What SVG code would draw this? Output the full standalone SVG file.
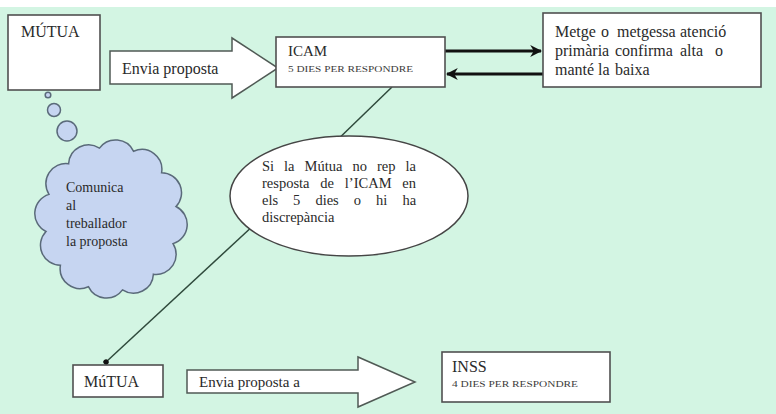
<svg xmlns="http://www.w3.org/2000/svg" width="776" height="414" viewBox="0 0 776 414">
<style>
.box{fill:#ffffff;stroke:#505050;stroke-width:1.6}
.arr{fill:#ffffff;stroke:#505a55;stroke-width:1.5;stroke-linejoin:miter}
.t{font-family:"Liberation Serif","Times New Roman",serif;fill:#2a2a2a;font-size:16px}
.s{font-family:"Liberation Serif","Times New Roman",serif;fill:#3a3a3a;font-size:8px}
.bub{fill:#c6d5f1;stroke:#5a6a7a;stroke-width:1.5}
.ln{stroke:#2f4a3c;stroke-width:1.5;fill:none}
.thick{stroke:#111;stroke-width:3;fill:none}
</style>
<defs>
<marker id="ah" viewBox="0 0 10 10" refX="9" refY="5" markerWidth="4" markerHeight="4" orient="auto" markerUnits="strokeWidth">
<path d="M0,0 L10,5 L0,10 L3,5 Z" fill="#111"/>
</marker>
<marker id="dot" viewBox="0 0 10 10" refX="5" refY="5" markerWidth="4" markerHeight="4" orient="auto" markerUnits="strokeWidth">
<circle cx="5" cy="5" r="4.5" fill="#111"/>
</marker>
</defs>
<rect x="0" y="0" width="776" height="414" fill="#ffffff"/>
<rect x="0" y="7" width="776" height="407" fill="#d3f5e3"/>

<g id="connectors">
<line class="thick" x1="445" y1="51" x2="541" y2="51" marker-end="url(#ah)"/>
<line class="thick" x1="543" y1="74" x2="447" y2="74" marker-end="url(#ah)"/>
<line class="ln" x1="392" y1="87" x2="330" y2="147"/>
<line class="ln" x1="255" y1="224" x2="106" y2="362" marker-end="url(#dot)"/>
<circle class="bub" cx="48" cy="95" r="2.8"/>
<circle class="bub" cx="54" cy="110" r="6.5"/>
<circle class="bub" cx="67" cy="131" r="10"/>
</g>

<g id="mutua1">
<rect class="box" x="8" y="15" width="92" height="75"/>
<text class="t" x="21" y="37">MÚTUA</text>
</g>

<g id="arrow1">
<path class="arr" d="M110,51 L232,51 L232,38 L278,68 L232,98 L232,84 L110,84 Z"/>
<text class="t" x="122" y="74">Envia proposta</text>
</g>

<g id="icam">
<rect class="box" x="276" y="37" width="169" height="50"/>
<text class="t" x="288" y="56" style="font-size:15px">ICAM</text>
<text class="s" x="288" y="72" textLength="125" lengthAdjust="spacingAndGlyphs">5 DIES PER RESPONDRE</text>
</g>

<g id="metge">
<rect class="box" x="543" y="13" width="218" height="74"/>
<text class="t" y="37"><tspan x="555">Metge</tspan><tspan x="601">o</tspan><tspan x="617">metgessa</tspan><tspan x="680">atenció</tspan></text>
<text class="t" y="56"><tspan x="555">primària</tspan><tspan x="615">confirma</tspan><tspan x="680">alta</tspan><tspan x="715">o</tspan></text>
<text class="t" y="75"><tspan x="555">manté</tspan><tspan x="598">la</tspan><tspan x="615">baixa</tspan></text>
</g>

<g id="cloud">
<path class="bub" d="M99.5,148.1 A20,20 0 0 1 133.6,151.3 A20,20 0 0 1 161.6,172.7 A20,20 0 0 1 176,206.5 A20,20 0 0 1 173,243.6 A20,20 0 0 1 153.4,274.2 A20,20 0 0 1 122.5,289.9 A20,20 0 0 1 88.4,286.7 A20,20 0 0 1 60.4,265.3 A20,20 0 0 1 46,231.5 A20,20 0 0 1 49,194.4 A20,20 0 0 1 68.6,163.8 A20,20 0 0 1 99.5,148.1 Z"/>
<text class="t" style="font-size:14px" x="66" y="192">Comunica</text>
<text class="t" style="font-size:14px" x="66" y="210">al</text>
<text class="t" style="font-size:14px" x="66" y="228">treballador</text>
<text class="t" style="font-size:14px" x="66" y="246">la proposta</text>
</g>

<g id="condition">
<ellipse cx="349" cy="196" rx="119" ry="60" fill="#ffffff" stroke="#454545" stroke-width="1.5"/>
<text class="t" style="font-size:14.5px" y="171"><tspan x="262">Si</tspan><tspan x="284.1">la</tspan><tspan x="304.6">Mútua</tspan><tspan x="352.5">no</tspan><tspan x="377">rep</tspan><tspan x="405.5">la</tspan></text>
<text class="t" style="font-size:14.5px" y="188"><tspan x="262">resposta</tspan><tspan x="320.3">de</tspan><tspan x="344.8">l’ICAM</tspan><tspan x="402.3">en</tspan></text>
<text class="t" style="font-size:14.5px" y="205"><tspan x="262">els</tspan><tspan x="293.1">5</tspan><tspan x="315.4">dies</tspan><tspan x="353.8">o</tspan><tspan x="376.1">hi</tspan><tspan x="402.4">ha</tspan></text>
<text class="t" style="font-size:14.5px" x="262" y="222">discrepància</text>
</g>

<g id="mutua2">
<rect class="box" x="73" y="365" width="90" height="32"/>
<text class="t" x="84" y="387">MúTUA</text>
</g>

<g id="arrow2">
<path class="arr" d="M187,370 L358,370 L358,357 L415,382 L358,407 L358,393 L187,393 Z"/>
<text class="t" x="199" y="387" style="font-size:15px">Envia proposta a</text>
</g>

<g id="inss">
<rect class="box" x="442" y="352" width="168" height="50"/>
<text class="t" x="452" y="372">INSS</text>
<text class="s" x="452" y="387" textLength="126" lengthAdjust="spacingAndGlyphs">4 DIES PER RESPONDRE</text>
</g>
</svg>
